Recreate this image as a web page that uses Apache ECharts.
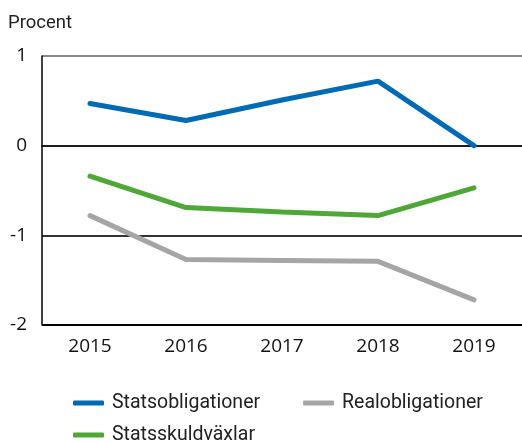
<!DOCTYPE html>
<html>
<head>
<meta charset="utf-8">
<script src="https://cdn.jsdelivr.net/npm/echarts@6/dist/echarts.min.js"></script>
<style>
    html, body { margin: 0; padding: 0; background: #fff; }
    #chart { width: 522px; height: 443px; }
</style>
</head>
<body>
<div id="chart"></div>
<script>
    var years = ['2015', '2016', '2017', '2018', '2019'];
    var statsobligationer = [0.47, 0.28, 0.51, 0.72, 0.0];
    var realobligationer = [-0.78, -1.27, -1.28, -1.29, -1.72];
    var statsskuldvaxlar = [-0.34, -0.69, -0.74, -0.78, -0.47];
    var yTicks = [-2, -1, 0, 1];

    var chart = echarts.init(document.getElementById('chart'));

    // 系列公共样式
    function line(name, data, color) {
        return {
            name: name,
            type: 'line',
            data: data,
            symbol: 'none',
            color: color,
            lineStyle: {width: 5, color: color, cap: 'round'}
        };
    }

    var legendText = {fontFamily: 'Roboto', fontSize: 19.5, color: '#222', padding: [0, 0, 0, 3]};

    chart.setOption({
        animation: false,
        title: {
            text: 'Procent',
            left: 8,
            top: 14,
            padding: 0,
            textStyle: {fontFamily: 'Roboto', fontSize: 18.5, fontWeight: 'normal', color: '#222'}
        },
        grid: {left: 42, right: -3, top: 56, bottom: 118},
        xAxis: {
            type: 'category',
            data: years,
            boundaryGap: true,
            axisLine: {lineStyle: {color: '#000', width: 1.5}},
            axisTick: {show: false},
            axisLabel: {fontFamily: 'Open Sans', fontSize: 19, color: '#111', margin: 12}
        },
        yAxis: {
            type: 'value',
            min: yTicks[0],
            max: yTicks[yTicks.length - 1],
            interval: 1,
            axisLine: {show: true, lineStyle: {color: '#000', width: 1.5}},
            axisTick: {show: false},
            axisLabel: {fontFamily: 'Open Sans', fontSize: 19, color: '#111', margin: 15},
            splitLine: {lineStyle: {color: ['#000', '#333', '#777', '#888'], width: 1.8}}
        },
        legend: [{
            data: ['Statsobligationer', 'Realobligationer'],
            left: 73,
            top: 393,
            padding: 0,
            icon: 'roundRect',
            itemWidth: 31,
            itemHeight: 5,
            itemGap: 43,
            textStyle: legendText
        }, {
            data: ['Statsskuldväxlar'],
            left: 73,
            top: 425,
            padding: 0,
            icon: 'roundRect',
            itemWidth: 31,
            itemHeight: 5,
            textStyle: legendText
        }],
        series: [
            line('Statsobligationer', statsobligationer, '#006ab4'),
            line('Realobligationer', realobligationer, '#a5a5a5'),
            line('Statsskuldväxlar', statsskuldvaxlar, '#4fa737')
        ]
    });
</script>
</body>
</html>
